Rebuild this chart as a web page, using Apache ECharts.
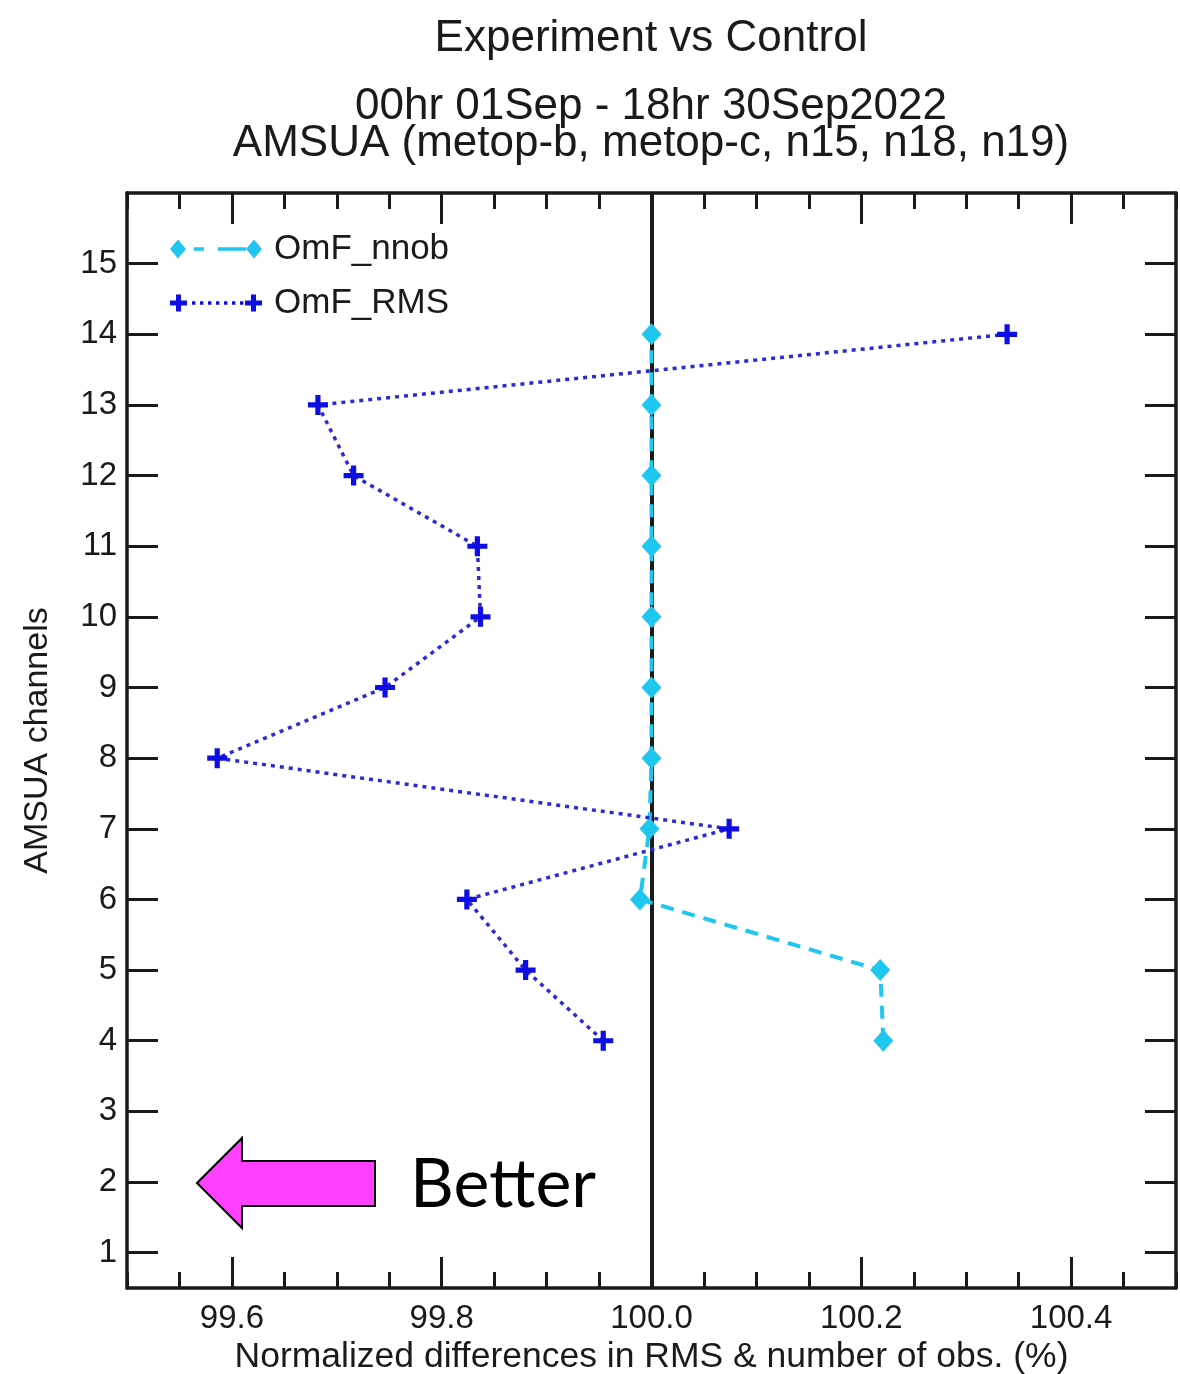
<!DOCTYPE html>
<html><head><meta charset="utf-8">
<script src="https://cdn.jsdelivr.net/npm/echarts@6/dist/echarts.min.js"></script>
<style>html,body{margin:0;padding:0;background:#fff}#c{width:1180px;height:1374px}</style>
</head><body><div id="c"></div>
<script>
// ---- data ----
const channels = [4, 5, 6, 7, 8, 9, 10, 11, 12, 13, 14];
const omfRMS  = [99.954, 99.880, 99.824, 100.074, 99.586, 99.746, 99.837, 99.834, 99.716, 99.682, 100.339];
const omfNnob = [100.221, 100.218, 99.989, 99.998, 100.0, 100.0, 100.0, 100.0, 100.0, 100.0, 100.0];
const xTickValues = [99.6, 99.8, 100.0, 100.2, 100.4];
const yTickValues = [1, 2, 3, 4, 5, 6, 7, 8, 9, 10, 11, 12, 13, 14, 15];
const refLineX = 100.0;
const seriesNames = ['OmF_nnob', 'OmF_RMS'];

// ---- layout ----
const W = 1180, H = 1374;
const PL = 127, PR = 1176, PT = 193, PB = 1288;
const XMIN = 99.5, XMAX = 100.5, YMIN = 0.5, YMAX = 16;
const px = v => PL + (v - XMIN) / (XMAX - XMIN) * (PR - PL);
const py = v => PB - (v - YMIN) / (YMAX - YMIN) * (PB - PT);
const xLo = xTickValues[0], xHi = xTickValues[xTickValues.length - 1];
const yLo = yTickValues[0], yHi = yTickValues[yTickValues.length - 1];
const gB = { left: px(xLo), right: W - px(xHi), top: py(yHi), bottom: H - py(yLo) };

const FONT = 'Liberation Sans, Arial, Helvetica, sans-serif';
const INK = '#1a1a1a';
const CYAN = '#1fc6f0';
const BLUE = '#0d0de4';
const BLUE_LINE = '#2b2bd6';

const corner = 'M0,0h0.01v0.01h-0.01Z M91.99,19.99h0.01v0.01h-0.01Z ';
const NNOB_ICON = 'path://' + corner +
  'M0,10L8,0.5L16,10L8,19.5Z M24,8.3h10v3.4h-10Z M48,8.3h28v3.4h-28Z M76,10L84,0.5L92,10L84,19.5Z';
function plusAt(cx) {
  return 'M' + (cx - 2.5) + ',1.5h5v6h6v5h-6v6h-5v-6h-6v-5h6Z ';
}
let dots = '';
[22, 30, 38, 46, 54, 62, 70].forEach(x => { dots += 'M' + x + ',8.3h3.4v3.4h-3.4Z '; });
const RMS_ICON = 'path://' + corner + plusAt(8.5) + dots + plusAt(83.5);
const PLUS_SYMBOL = 'path://M-1.3,-5h2.6v3.7h3.7v2.6h-3.7v3.7h-2.6v-3.7h-3.7v-2.6h3.7Z';

const chart = echarts.init(document.getElementById('c'), null, { renderer: 'canvas' });

const lineAx = { show: true, onZero: false, lineStyle: { color: INK, width: 3.5 } };
const noLine = { show: false, onZero: false };
const minorTick = { show: true, inside: true, length: 16, lineStyle: { color: INK, width: 3 } };
const majorTick = { show: true, inside: true, length: 31, lineStyle: { color: INK, width: 3 } };
const tickLabel = { show: true, color: INK, fontFamily: FONT, fontSize: 33 };

const option = {
  animation: false,
  backgroundColor: '#fff',
  title: [
    { text: 'Experiment vs Control', left: 646, top: 12, textAlign: 'center', padding: 5,
      textStyle: { fontFamily: FONT, fontSize: 44, fontWeight: 'normal', color: INK } },
    { text: '00hr 01Sep - 18hr 30Sep2022\nAMSUA (metop-b, metop-c, n15, n18, n19)',
      left: 646, top: 83, textAlign: 'center', padding: 5,
      textStyle: { fontFamily: FONT, fontSize: 44, fontWeight: 'normal', color: INK, lineHeight: 37 } }
  ],
  legend: {
    orient: 'vertical', left: 165, top: 224, padding: 5,
    itemWidth: 92, itemHeight: 20, itemGap: 14, selectedMode: false,
    textStyle: { fontFamily: FONT, fontSize: 35, color: INK, lineHeight: 40, padding: [0, 0, 0, 7] },
    data: [
      { name: seriesNames[0], icon: NNOB_ICON, itemStyle: { color: CYAN } },
      { name: seriesNames[1], icon: RMS_ICON, itemStyle: { color: BLUE } }
    ]
  },
  grid: [
    { left: PL, right: W - PR, top: PT, bottom: H - PB, containLabel: false, outerBoundsMode: 'none' },
    { left: gB.left, right: gB.right, top: gB.top, bottom: gB.bottom, containLabel: false, outerBoundsMode: 'none' }
  ],
  xAxis: [
    { gridIndex: 0, type: 'value', position: 'bottom', min: XMIN, max: XMAX, interval: 0.05,
      axisLine: lineAx, axisTick: minorTick, axisLabel: { show: false }, splitLine: { show: false },
      name: 'Normalized differences in RMS & number of obs. (%)', nameLocation: 'middle', nameGap: 51,
      nameTextStyle: { fontFamily: FONT, fontSize: 35.5, color: INK } },
    { gridIndex: 0, type: 'value', position: 'top', min: XMIN, max: XMAX, interval: 0.05,
      axisLine: lineAx, axisTick: minorTick, axisLabel: { show: false }, splitLine: { show: false } },
    { gridIndex: 1, type: 'value', position: 'bottom', offset: PB - py(yLo), min: xLo, max: xHi, interval: 0.2,
      axisLine: noLine, axisTick: majorTick, splitLine: { show: false },
      axisLabel: Object.assign({}, tickLabel, { margin: 14, formatter: v => v.toFixed(1) }) },
    { gridIndex: 1, type: 'value', position: 'top', offset: py(yHi) - PT, min: xLo, max: xHi, interval: 0.2,
      axisLine: noLine, axisTick: majorTick, axisLabel: { show: false }, splitLine: { show: false } }
  ],
  yAxis: [
    { gridIndex: 0, type: 'value', position: 'left', min: YMIN, max: YMAX,
      axisLine: lineAx, axisTick: { show: false }, axisLabel: { show: false }, splitLine: { show: false },
      name: 'AMSUA channels', nameLocation: 'middle', nameGap: 72, nameRotate: 90,
      nameTextStyle: { fontFamily: FONT, fontSize: 34, color: INK } },
    { gridIndex: 0, type: 'value', position: 'right', min: YMIN, max: YMAX,
      axisLine: lineAx, axisTick: { show: false }, axisLabel: { show: false }, splitLine: { show: false } },
    { gridIndex: 1, type: 'value', position: 'left', offset: gB.left - PL, min: yLo, max: yHi, interval: 1,
      axisLine: noLine, axisTick: majorTick, splitLine: { show: false },
      axisLabel: Object.assign({}, tickLabel, { margin: 10 }) },
    { gridIndex: 1, type: 'value', position: 'right', offset: PR - px(xHi), min: yLo, max: yHi, interval: 1,
      axisLine: noLine, axisTick: majorTick, axisLabel: { show: false }, splitLine: { show: false } }
  ],
  series: [
    { name: 'ref', type: 'line', xAxisIndex: 0, yAxisIndex: 0, data: [], z: 1, silent: true,
      markLine: { silent: true, z: 1, symbol: ['none', 'none'], label: { show: false },
        lineStyle: { color: INK, width: 4, type: 'solid' }, data: [{ xAxis: refLineX }] } },
    { name: seriesNames[0], type: 'line', xAxisIndex: 0, yAxisIndex: 0, z: 3,
      data: channels.map((c, i) => [omfNnob[i], c]),
      symbol: 'diamond', symbolSize: [20, 22],
      itemStyle: { color: CYAN, borderWidth: 0 },
      lineStyle: { color: CYAN, width: 4, type: [13, 9] } },
    { name: seriesNames[1], type: 'line', xAxisIndex: 0, yAxisIndex: 0, z: 4,
      data: channels.map((c, i) => [omfRMS[i], c]),
      symbol: PLUS_SYMBOL, symbolSize: 20,
      itemStyle: { color: BLUE, borderWidth: 0 },
      lineStyle: { color: BLUE_LINE, width: 3.5, type: [4, 5] } }
  ],
  graphic: [
    { type: 'polygon', z: 50,
      shape: { points: [[197, 1183], [242, 1138], [242, 1161], [375, 1161], [375, 1206], [242, 1206], [242, 1228]] },
      style: { fill: '#ff40ff', stroke: '#000', lineWidth: 2 } },
    { type: 'text', z: 50, x: 410, y: 1185,
      style: { text: 'Better', fill: '#000', font: '68px Lato, "Open Sans", sans-serif', align: 'left', verticalAlign: 'middle' } }
  ]
};
chart.setOption(option);
</script>
</body></html>
